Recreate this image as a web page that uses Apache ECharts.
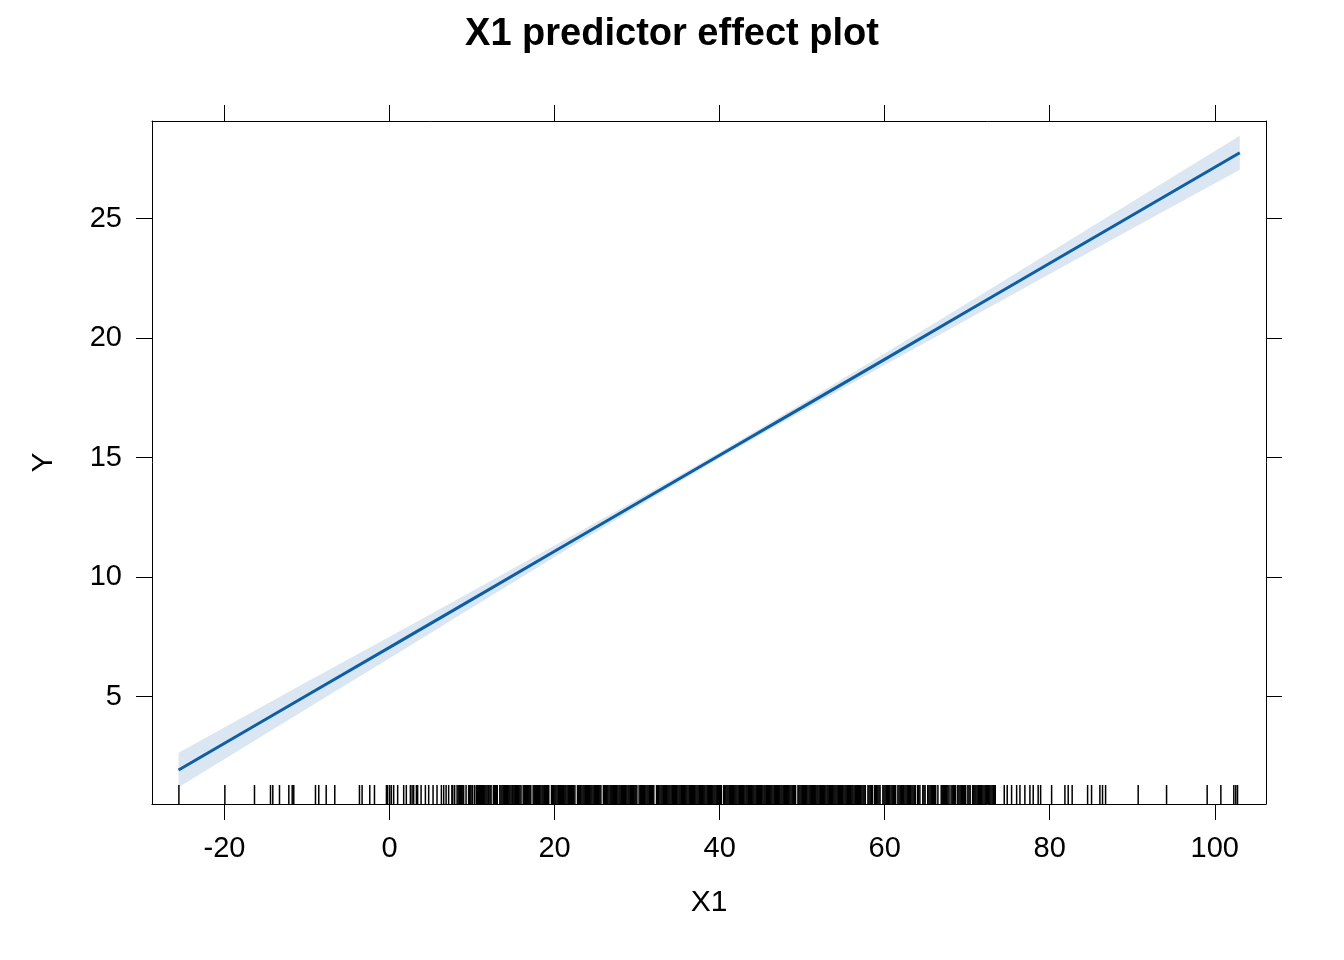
<!DOCTYPE html>
<html>
<head>
<meta charset="utf-8">
<script src="https://cdn.jsdelivr.net/npm/echarts@6/dist/echarts.min.js"></script>
<style>html,body{margin:0;padding:0;background:#fff;}#c{width:1344px;height:960px;}</style>
</head>
<body>
<div id="c"></div>
<script>
// ---- data ----
const xTicks = [-20, 0, 20, 40, 60, 80, 100];
const yTicks = [5, 10, 15, 20, 25];
const fitX = [-25.57, -10, 0, 10, 20, 30, 40, 50, 60, 70, 80, 90, 103.03];
const fitY = [1.93, 5.06, 7.06, 9.07, 11.08, 13.09, 15.10, 17.10, 19.11, 21.12, 23.13, 25.14, 27.75];
const bandLo = [1.21, 4.50, 6.61, 8.73, 10.84, 12.93, 14.98, 16.94, 18.87, 20.78, 22.68, 24.58, 27.04];
const bandHi = [2.65, 5.62, 7.51, 9.41, 11.32, 13.25, 15.22, 17.26, 19.35, 21.46, 23.58, 25.70, 28.46];
const rugX = [
-25.53,-19.96,-16.37,-14.43,-14.15,-13.34,-12.21,-11.80,-11.61,-8.98,-8.58,-7.68,-6.64,-3.65,-3.33,-2.40,-1.83,
-0.38,-0.23,0.02,0.22,0.50,0.98,1.71,2.03,2.52,2.73,2.92,3.25,3.40,3.82,4.34,4.74,5.27,
5.75,6.28,6.56,6.85,7.16,7.55,7.66,7.89,8.18,8.31,8.45,8.6,8.74,8.88,8.98,9.27,9.58,9.7,9.85,10.0,10.07,10.31,
10.52,10.63,10.77,10.88,
11.0,11.13,11.27,11.4,11.54,11.68,11.81,11.95,
12.04,12.18,12.3,12.58,12.71,12.85,12.97,
13.05,13.36,13.5,13.63,13.77,13.9,
14.04,14.17,14.31,14.45,14.58,14.72,14.86,14.97,
15.1,15.24,15.38,15.5,15.65,15.79,15.93,
16.19,16.32,16.46,16.6,16.73,16.87,
17.0,17.12,17.4,17.53,17.67,17.8,17.94,
18.07,18.2,18.34,18.48,18.61,18.75,18.88,
19.02,19.15,19.29,19.62,19.75,19.89,
20.03,20.16,20.3,20.44,20.57,20.71,20.85,20.97,
21.1,21.24,21.37,21.51,21.65,21.78,21.92,
22.05,22.19,22.32,22.46,22.77,22.9,
23.04,23.17,23.31,23.45,23.58,23.72,23.86,23.98,
24.11,24.25,24.39,24.52,24.66,24.8,24.93,
25.07,25.2,25.34,25.48,25.61,25.91,
26.04,26.18,26.32,26.45,26.59,26.73,26.86,26.98,
27.12,27.26,27.4,27.53,27.67,27.81,27.94,
28.08,28.21,28.35,28.49,28.62,28.76,28.9,
29.03,29.17,29.31,29.44,29.58,29.72,29.85,29.97,
30.24,30.38,30.51,30.65,30.79,30.92,
31.06,31.2,31.33,31.47,31.61,31.74,31.88,
32.02,32.35,32.49,32.62,32.76,32.9,
33.03,33.17,33.31,33.44,33.58,33.72,33.85,33.98,
34.12,34.26,34.39,34.53,34.67,34.8,34.94,
35.08,35.21,35.35,35.49,35.62,35.76,35.9,
36.03,36.17,36.31,36.44,36.58,36.72,36.85,36.98,
37.12,37.26,37.39,37.53,37.67,37.8,37.94,
38.08,38.21,38.35,38.49,38.62,38.76,38.9,
39.03,39.17,39.31,39.44,39.58,39.72,39.85,39.98,
40.12,40.2,40.48,40.61,40.75,40.89,
41.02,41.16,41.3,41.43,41.57,41.71,41.84,41.97,
42.1,42.24,42.38,42.51,42.65,42.79,42.92,
43.06,43.2,43.33,43.47,43.61,43.74,43.88,
44.02,44.15,44.29,44.43,44.56,44.7,44.84,44.97,
45.1,45.24,45.38,45.51,45.65,45.79,45.92,
46.06,46.2,46.33,46.47,46.61,46.74,46.88,
47.02,47.15,47.29,47.43,47.56,47.7,47.84,47.97,
48.1,48.24,48.38,48.51,48.65,48.79,48.92,
49.06,49.2,49.49,49.61,49.74,49.88,
50.02,50.15,50.29,50.43,50.56,50.7,50.84,50.97,
51.1,51.24,51.38,51.51,51.65,51.79,51.92,
52.06,52.2,52.33,52.47,52.61,52.74,52.88,
53.02,53.15,53.29,53.43,53.56,53.7,53.84,53.97,
54.1,54.24,54.38,54.51,54.65,54.79,54.92,
55.06,55.2,55.33,55.47,55.61,55.74,55.88,
56.02,56.15,56.29,56.43,56.56,56.7,56.84,56.97,
57.1,57.24,57.38,57.51,57.65,57.97,
58.1,58.24,58.38,58.51,58.77,58.9,
59.03,59.17,59.31,59.44,59.78,59.91,
60.05,60.19,60.33,60.48,60.62,60.77,60.91,
61.05,61.2,61.33,61.6,61.74,61.88,
62.02,62.16,62.3,62.45,62.59,62.73,62.87,
63.01,63.15,63.3,63.44,63.58,63.72,63.99,
64.13,64.27,64.62,64.76,64.9,
65.22,65.36,65.5,65.64,65.78,65.92,
66.06,66.18,66.45,66.85,66.97,
67.1,67.24,67.38,67.52,67.66,67.8,
68.04,68.18,68.32,68.46,68.6,68.86,
69.0,69.14,69.28,69.42,69.56,69.7,69.82,
70.08,70.22,70.36,70.66,70.8,70.93,
71.06,71.2,71.34,71.48,71.62,71.76,71.9,
72.04,72.18,72.32,72.46,72.6,72.74,72.88,
73.02,73.16,73.3,73.4,
74.49,74.85,75.38,75.99,76.39,76.99,77.6,78.0,78.6,78.9,80.23,81.84,82.24,82.72,84.59,85.07,86.08,86.4,86.77,
90.72,94.16,99.08,100.74,102.31,102.55,102.76
];

// ---- chart ----
const X_MIN = -28.79, X_MAX = 106.21;
const Y_MIN = 0.51, Y_MAX = 29.08;
const FONT = '"Liberation Sans", Arial, Helvetica, sans-serif';
const LINE_COLOR = '#0b5ea8';
const BAND_COLOR = '#dae6f2';

const chart = echarts.init(document.getElementById('c'), null, {renderer: 'canvas'});

function axisCommon(showLabel, vals) {
  return {
    axisLine: {show: true, onZero: false, lineStyle: {color: '#000', width: 1}},
    axisTick: {show: true, inside: false, length: 16, customValues: vals, lineStyle: {color: '#000', width: 1}},
    axisLabel: {show: showLabel, customValues: vals, margin: 30, color: '#000', fontSize: 29, fontFamily: FONT},
    splitLine: {show: false}
  };
}

const option = {
  animation: false,
  backgroundColor: '#fff',
  title: {
    text: 'X1 predictor effect plot',
    left: 'center',
    top: 11,
    textStyle: {fontSize: 38, fontWeight: 'bold', color: '#000', fontFamily: FONT}
  },
  grid: {left: 152, top: 121, width: 1114, height: 683, show: false},
  xAxis: [
    Object.assign({type: 'value', position: 'bottom', min: X_MIN, max: X_MAX,
      name: 'X1', nameLocation: 'middle', nameGap: 84,
      nameTextStyle: {fontSize: 30, color: '#000', fontFamily: FONT}}, axisCommon(true, xTicks)),
    Object.assign({type: 'value', position: 'top', min: X_MIN, max: X_MAX}, axisCommon(false, xTicks))
  ],
  yAxis: [
    Object.assign({type: 'value', position: 'left', min: Y_MIN, max: Y_MAX,
      name: 'Y', nameLocation: 'middle', nameGap: 93, nameRotate: 90,
      nameTextStyle: {fontSize: 30, color: '#000', fontFamily: FONT}}, axisCommon(true, yTicks)),
    Object.assign({type: 'value', position: 'right', min: Y_MIN, max: Y_MAX}, axisCommon(false, yTicks))
  ],
  series: [
    {
      type: 'custom',
      name: 'band',
      xAxisIndex: 0, yAxisIndex: 0,
      silent: true,
      z: 1,
      data: [[fitX[0], fitY[0]]],
      renderItem: function (params, api) {
        const pts = [];
        for (let i = 0; i < fitX.length; i++) pts.push(api.coord([fitX[i], bandHi[i]]));
        for (let i = fitX.length - 1; i >= 0; i--) pts.push(api.coord([fitX[i], bandLo[i]]));
        return {type: 'polygon', shape: {points: pts}, style: {fill: BAND_COLOR}};
      }
    },
    {
      type: 'line',
      name: 'fit',
      xAxisIndex: 0, yAxisIndex: 0,
      z: 3,
      showSymbol: false,
      silent: true,
      data: fitX.map((x, i) => [x, fitY[i]]),
      lineStyle: {color: LINE_COLOR, width: 3}
    },
    {
      type: 'custom',
      name: 'rug',
      xAxisIndex: 0, yAxisIndex: 0,
      silent: true,
      z: 2,
      data: rugX.map(v => [v, Y_MIN]),
      renderItem: function (params, api) {
        const p = api.coord([api.value(0), Y_MIN]);
        return {type: 'line', shape: {x1: p[0], y1: p[1], x2: p[0], y2: p[1] - 19},
          style: {stroke: '#000', lineWidth: 1.5}};
      }
    }
  ]
};
chart.setOption(option);
</script>
</body>
</html>
